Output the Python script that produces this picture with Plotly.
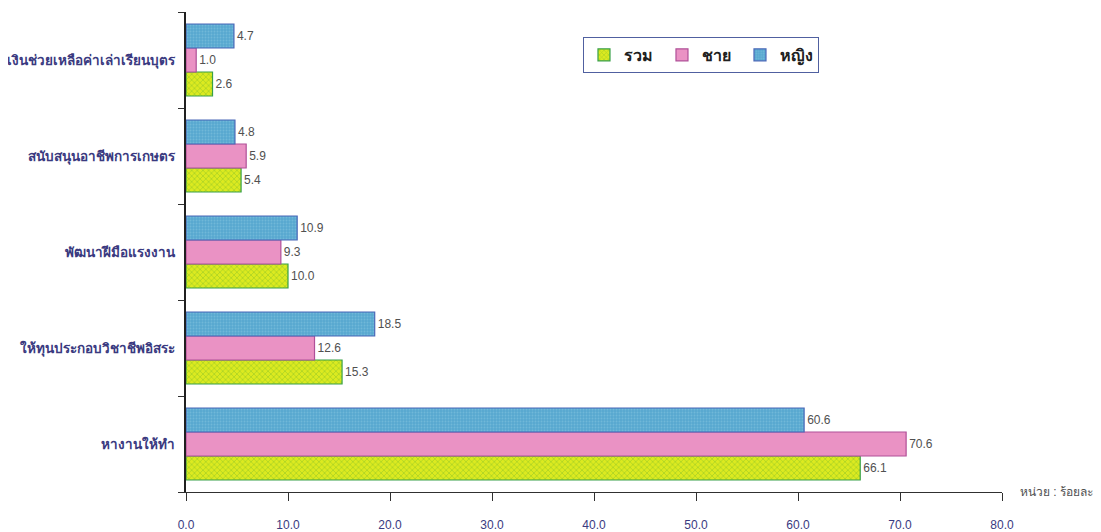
import plotly.graph_objects as go

categories = ["หางานให้ทำ", "ให้ทุนประกอบวิชาชีพอิสระ", "พัฒนาฝีมือแรงงาน",
              "สนับสนุนอาชีพการเกษตร", "เงินช่วยเหลือค่าเล่าเรียนบุตร"]
total = [66.1, 15.3, 10.0, 5.4, 2.6]
male = [70.6, 12.6, 9.3, 5.9, 1.0]
female = [60.6, 18.5, 10.9, 4.8, 4.7]
x_ticks = [0, 10, 20, 30, 40, 50, 60, 70, 80]

navy = "#3a3a80"
FONT = "Liberation Sans, Arial, sans-serif"
fig = go.Figure()
fig.add_trace(go.Bar(
    y=categories, x=total, name="รวม", orientation="h",
    text=[f"{v:.1f}" for v in total], textposition="outside",
    marker=dict(color="#c8e020", line=dict(color="#38a048", width=1.2),
                pattern=dict(shape="x", fgcolor="#78b828", bgcolor="#dcea20", size=4, solidity=0.35)),
))
fig.add_trace(go.Bar(
    y=categories, x=male, name="ชาย", orientation="h",
    text=[f"{v:.1f}" for v in male], textposition="outside",
    marker=dict(color="#ea92c4", line=dict(color="#b05098", width=1.2)),
))
fig.add_trace(go.Bar(
    y=categories, x=female, name="หญิง", orientation="h",
    text=[f"{v:.1f}" for v in female], textposition="outside",
    marker=dict(color="#62b2d6", line=dict(color="#4a68b8", width=1.2),
                pattern=dict(shape=".", fgcolor="#88c8e0", bgcolor="#58a8d0", size=3, solidity=0.3)),
))

fig.update_traces(textfont=dict(color="#505050", size=12, family=FONT), cliponaxis=False)

fig.update_layout(
    width=1093, height=524,
    margin=dict(l=178, r=99, t=4, b=40),
    paper_bgcolor="white", plot_bgcolor="white",
    barmode="group", bargap=0.25, bargroupgap=0,
    font=dict(family=FONT),
    showlegend=True,
    legend=dict(orientation="h", x=0.4865, y=0.948, xanchor="left", yanchor="top",
                bordercolor="#5060a0", borderwidth=1, bgcolor="white",
                font=dict(size=16, color="#202020", family=FONT, weight="bold"),
                itemwidth=30, traceorder="normal", entrywidth=33),
    xaxis=dict(range=[0, 80], tickvals=x_ticks, ticktext=[f"{v:.1f}" for v in x_ticks],
               showgrid=False, zeroline=False, showline=True, linecolor="#303030", linewidth=1,
               ticks="outside", ticklen=8, tickcolor="#303030", ticklabelstandoff=14,
               tickfont=dict(size=12, color=navy, family=FONT), automargin=False),
    yaxis=dict(showgrid=False, showline=True, linecolor="#202020", linewidth=1.5,
               ticks="outside", ticklen=6, tickson="boundaries", tickcolor="#303030",
               tickfont=dict(size=13.5, color=navy, family=FONT, weight="bold"),
               ticklabelstandoff=7, automargin=False),
)

fig.add_annotation(x=1.0196, y=0.0, xref="paper", yref="paper", xanchor="left", yanchor="middle",
                   text="หน่วย : ร้อยละ", showarrow=False, font=dict(size=12, color="#505050", family=FONT))

fig.write_html("out.html")
